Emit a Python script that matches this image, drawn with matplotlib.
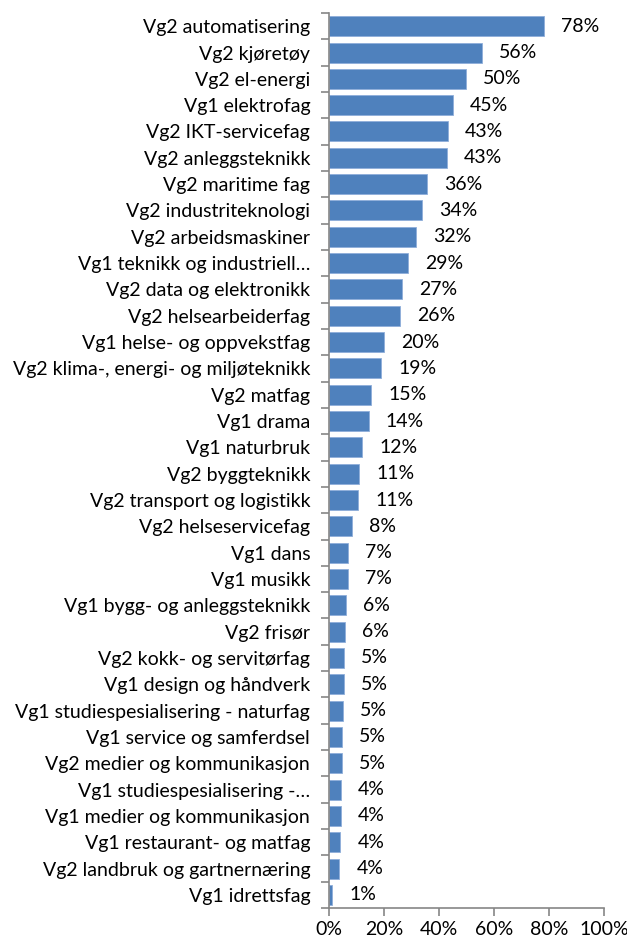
import numpy as np
import matplotlib.pyplot as plt
from matplotlib.ticker import FixedLocator, PercentFormatter

plt.rcParams['font.family'] = ['Lato', 'DejaVu Sans']

categories = [
    'Vg2 automatisering', 'Vg2 kjøretøy', 'Vg2 el-energi', 'Vg1 elektrofag',
    'Vg2 IKT-servicefag', 'Vg2 anleggsteknikk', 'Vg2 maritime fag',
    'Vg2 industriteknologi', 'Vg2 arbeidsmaskiner', 'Vg1 teknikk og industriell…',
    'Vg2 data og elektronikk', 'Vg2 helsearbeiderfag', 'Vg1 helse- og oppvekstfag',
    'Vg2 klima-, energi- og miljøteknikk', 'Vg2 matfag', 'Vg1 drama',
    'Vg1 naturbruk', 'Vg2 byggteknikk', 'Vg2 transport og logistikk',
    'Vg2 helseservicefag', 'Vg1 dans', 'Vg1 musikk', 'Vg1 bygg- og anleggsteknikk',
    'Vg2 frisør', 'Vg2 kokk- og servitørfag', 'Vg1 design og håndverk',
    'Vg1 studiespesialisering - naturfag', 'Vg1 service og samferdsel',
    'Vg2 medier og kommunikasjon', 'Vg1 studiespesialisering -…',
    'Vg1 medier og kommunikasjon', 'Vg1 restaurant- og matfag',
    'Vg2 landbruk og gartnernæring', 'Vg1 idrettsfag',
]
values = [
    78.2, 55.6, 49.8, 45.1, 43.3, 42.8, 35.6, 33.8, 31.6, 28.7,
    26.6, 25.8, 20.0, 18.9, 15.3, 14.5, 12.0, 10.9, 10.6, 8.4,
    6.9, 6.9, 6.2, 5.8, 5.4, 5.3, 5.1, 4.8, 4.7, 4.4,
    4.3, 4.1, 3.8, 1.2,
]
xticks = [0, 20, 40, 60, 80, 100]

fig = plt.figure(figsize=(6.27, 9.44), dpi=100)
ax = fig.add_axes([0.5247, 0.0381, 0.4386, 0.9481])

y = np.arange(len(categories))
ax.barh(y, values, height=0.76, color='#4F81BD', edgecolor='#8FAEDA', linewidth=0.6)

for yi, v in zip(y, values):
    ax.text(v + 6.2, yi, f'{v:.0f}%', va='center', ha='left', fontsize=14, color='black')

ax.set_ylim(len(categories) - 0.5, -0.5)
ax.set_xlim(0, 100)
ax.set_yticks(y)
ax.set_yticklabels(categories, fontsize=14)
ax.yaxis.set_minor_locator(FixedLocator(np.arange(len(categories) + 1) - 0.5))
ax.tick_params(axis='y', which='major', length=0, pad=13.5)
ax.tick_params(axis='y', which='minor', length=6, width=1.2, color='#868686', direction='out')

ax.set_xticks(xticks)
ax.xaxis.set_major_formatter(PercentFormatter(decimals=0))
ax.tick_params(axis='x', length=6, width=1.2, color='#868686', labelsize=14, pad=3.5)

for s in ['top', 'right']:
    ax.spines[s].set_visible(False)
for s in ['left', 'bottom']:
    ax.spines[s].set_color('#868686')
    ax.spines[s].set_linewidth(1.2)

fig.savefig('out.png', dpi=100)
